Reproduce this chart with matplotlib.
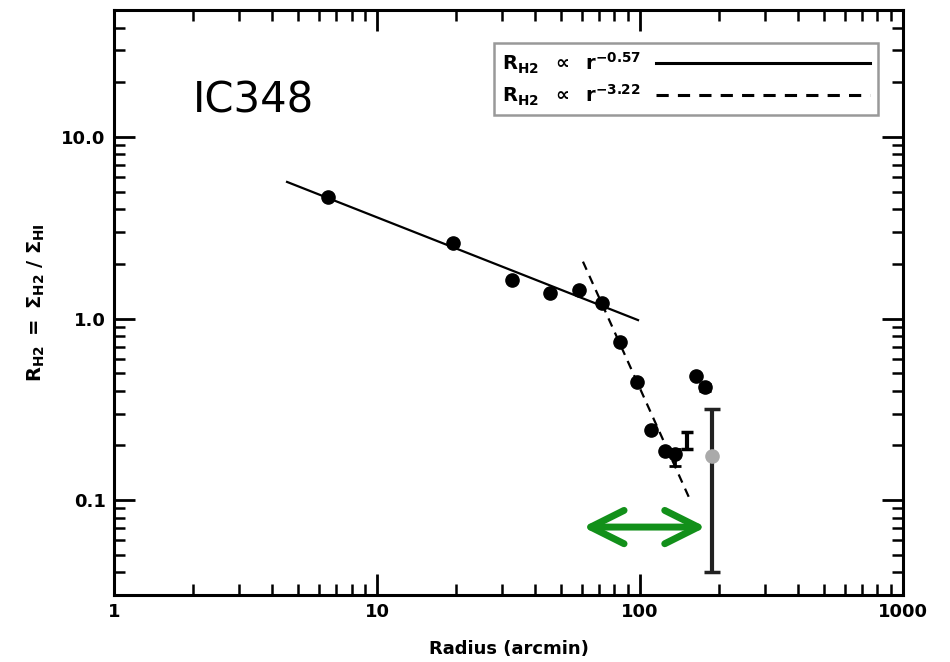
import matplotlib.pyplot as plt
import numpy as np

# IC348: H2-to-HI ratio against radius
radius = [6.5, 19.5, 32.6, 45.5, 58.6, 71.7, 84.0, 97.5, 110.0, 124.5, 136.0, 163.0, 177.0]
ratio = [4.68, 2.62, 1.64, 1.39, 1.43, 1.21, 0.738, 0.445, 0.243, 0.186, 0.179, 0.48, 0.418]
err_lo = [0, 0, 0, 0, 0, 0, 0, 0, 0, 0, 0.025, 0, 0.02]
err_hi = [0, 0, 0, 0, 0, 0, 0, 0, 0, 0, 0.012, 0, 0.02]

# point shown only by its error bar
lone_r, lone_v = 151.0, 0.211
lone_lo, lone_hi = 0.02, 0.025

# outermost (grey) point with large uncertainty
out_r, out_v = 188.0, 0.174
out_lo, out_hi = 0.134, 0.142

# power-law fits R ~ A r^k over given radius ranges
fit_inner = dict(amp=13.4, k=-0.57, rmin=4.55, rmax=98.3)
fit_outer = dict(amp=1.135e6, k=-3.22, rmin=60.7, rmax=155.0)

# radius span marked with the green arrow
span_r = [60.7, 178.0]
span_y = 0.0711

plt.rcParams['font.family'] = 'DejaVu Sans'
plt.rcParams['mathtext.fontset'] = 'dejavusans'
plt.rcParams['mathtext.default'] = 'bf'

fig = plt.figure(figsize=(9.5, 6.62), dpi=100)
ax = fig.add_axes([0.12, 0.101, 0.8305, 0.884])
ax.set_xscale('log')
ax.set_yscale('log')

for fit, ls in [(fit_inner, '-'), (fit_outer, '--')]:
    r = np.array([fit['rmin'], fit['rmax']])
    lab = r'$R_{H2}\ \ \propto\ \ r^{%.2f}$' % fit['k']
    ax.plot(r, fit['amp'] * r ** fit['k'], color='black', ls=ls, lw=1.6,
            dashes=(4, 3) if ls == '--' else (None, None), label=lab)

ax.errorbar(radius, ratio, yerr=[err_lo, err_hi], fmt='o', color='black',
            ms=9.5, capsize=4, elinewidth=2, capthick=2, zorder=3)
ax.errorbar([lone_r], [lone_v], yerr=[[lone_lo], [lone_hi]], fmt='none',
            ecolor='black', elinewidth=3, capsize=4, capthick=2.5, zorder=3)
ax.errorbar([out_r], [out_v], yerr=[[out_lo], [out_hi]], fmt='none',
            ecolor='#222222', elinewidth=3, capsize=6, capthick=2.5, zorder=3)
ax.plot([out_r], [out_v], 'o', color='#aaaaaa', ms=9.5, zorder=4)

ax.annotate('', xy=(span_r[1], span_y), xytext=(span_r[0], span_y),
            arrowprops=dict(arrowstyle='<->,head_length=1.2,head_width=0.6',
                            color='#12901a', lw=5, shrinkA=0, shrinkB=0,
                            mutation_scale=20))

ax.text(0.1, 0.824, 'IC348', transform=ax.transAxes, fontsize=30)

ax.set_xlim(1, 1000)
ax.set_ylim(0.03, 50)
ax.set_xticks([1, 10, 100, 1000])
ax.set_xticklabels(['1', '10', '100', '1000'])
ax.set_yticks([0.1, 1, 10])
ax.set_yticklabels(['0.1', '1.0', '10.0'])
ax.tick_params(which='both', direction='in', top=True, right=True, width=2,
               labelsize=13, pad=6)
ax.tick_params(which='major', length=15)
ax.tick_params(which='minor', length=8, width=1.8)
for lbl in ax.get_xticklabels() + ax.get_yticklabels():
    lbl.set_fontweight('bold')
for sp in ax.spines.values():
    sp.set_linewidth(2.2)

ax.set_xlabel('Radius (arcmin)', fontsize=13, fontweight='bold', labelpad=13)
ax.set_ylabel(r'$R_{H2}\ =\ \Sigma_{H2}\ /\ \Sigma_{HI}$', fontsize=14,
              labelpad=10)

leg = ax.legend(loc='upper right', bbox_to_anchor=(0.968, 0.944),
                borderaxespad=0, fancybox=False, edgecolor='#999999',
                markerfirst=False, handlelength=11, fontsize=14,
                labelspacing=0.35, borderpad=0.4, framealpha=1)
leg.get_frame().set_linewidth(1.8)
for line in leg.get_lines():
    line.set_linewidth(2.2)

fig.savefig('out.png', dpi=100)
